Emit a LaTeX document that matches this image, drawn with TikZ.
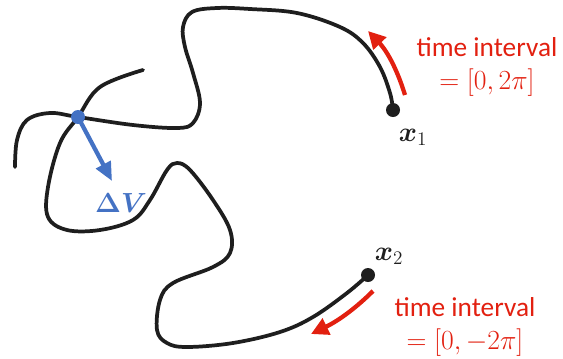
\documentclass[tikz,border=0pt]{standalone}
\usepackage{amsmath,amssymb,bm}
\usepackage{fontspec}
\setmainfont{Carlito}
\usetikzlibrary{arrows.meta}
\definecolor{myred}{RGB}{226,32,16}
\definecolor{myblue}{RGB}{68,114,196}
\definecolor{myblack}{RGB}{30,30,30}
\begin{document}
\begin{tikzpicture}[x=0.75pt,y=-0.75pt,
  curve/.style={draw=myblack,line width=2.8pt,line cap=round,line join=round},
  dotnode/.style={circle,fill=myblack,inner sep=0pt,minimum size=10.5pt},
  bdot/.style={circle,fill=myblue,inner sep=0pt,minimum size=10.5pt},
  redarr/.style={draw=myred,line width=3.2pt,-{Triangle[length=13pt,width=13pt]}},
  bluearr/.style={draw=myblue,line width=3.2pt,-{Triangle[length=14pt,width=12pt]}},
  lbl/.style={font=\fontsize{20.5}{24}\selectfont,inner sep=0pt},
  mlbl/.style={font=\fontsize{22}{26}\selectfont,inner sep=0pt},
]
\useasboundingbox (0,0) rectangle (563,358);
% curve 1
\draw[curve] plot[smooth,tension=0.6] coordinates {(393,110) (390,93) (380,67) (363,43) (340,27) (297,13) (250,9) (217,8) (192,12) (183,27) (185,47) (193,73) (200,103) (193,123) (177,128) (133,125) (78,117) (50,113) (27,120) (17,140) (15,167)};
% curve 2
\draw[curve] plot[smooth,tension=0.6] coordinates {(368,275) (347,293) (313,317) (280,332) (233,343) (187,347) (167,343) (157,330) (160,300) (173,283) (213,267) (230,253) (230,230) (213,200) (190,170) (177,163) (167,170) (150,200) (133,220) (100,230) (67,230) (48,217) (48,187) (60,143) (78,117) (100,87) (143,70)};
% dots
\node[dotnode] (x1) at (393,110) {};
\node[dotnode] (x2) at (368,275) {};
\node[bdot] (dv) at (78,117) {};
\coordinate (dvtip) at (112,181);
\draw[bluearr] (dv.center) -- (dvtip);
% labels
\node[mlbl,text=myblue] (dvl) at (121,203) {$\bm{\Delta V}$};
\node[mlbl,text=myblack] (x1l) at (413,137) {$\bm{x}_1$};
\node[mlbl,text=myblack] (x2l) at (389,256) {$\bm{x}_2$};
\node[lbl,text=myred] (t1) at (487,47) {time interval};
\node[lbl,text=myred] (m1) at (487,83) {$=[0,2\pi]$};
\node[lbl,text=myred] (t2) at (465,307) {time interval};
\node[lbl,text=myred] (m2) at (465,343) {$=[0,-2\pi]$};
% red arrows
\coordinate (a1s) at (405,95);
\coordinate (a1e) at (368,31);
\draw[redarr] (a1s) .. controls (398,72) and (388,52) .. (a1e);
\coordinate (a2s) at (373,291);
\coordinate (a2e) at (311,334);
\draw[redarr] (a2s) .. controls (358,306) and (340,320) .. (a2e);
\end{tikzpicture}
\end{document}
